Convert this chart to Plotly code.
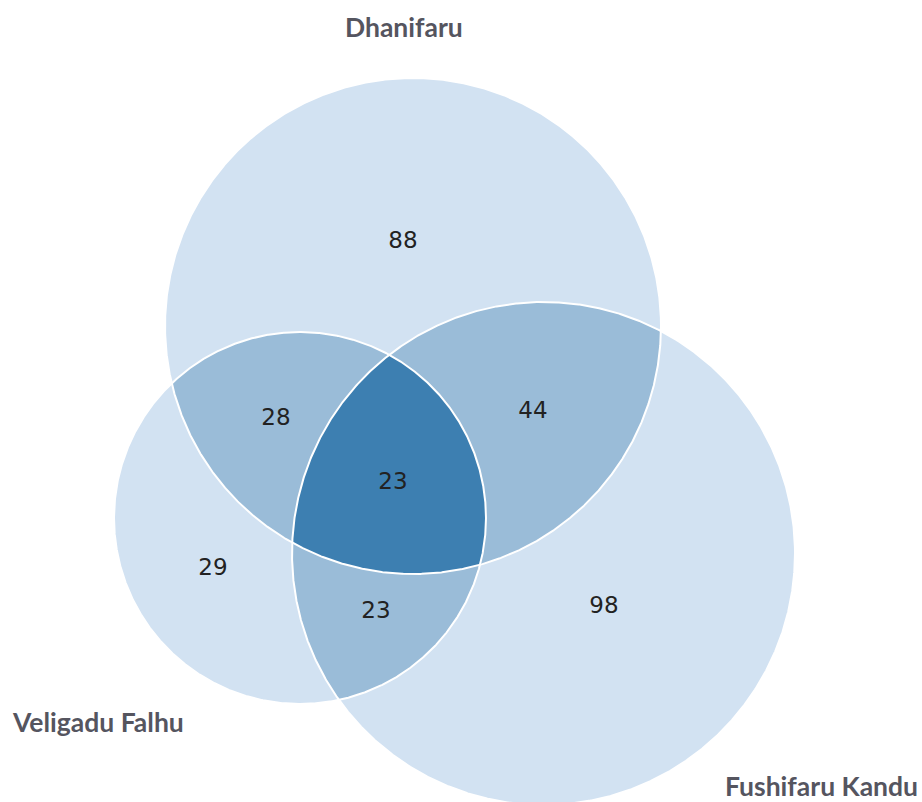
import numpy as np
import plotly.graph_objects as go

# sets and region counts
set_names = ["Dhanifaru", "Veligadu Falhu", "Fushifaru Kandu"]
region_keys = ["D", "V", "F", "DV", "DF", "VF", "DVF"]
region_counts = [88, 29, 98, 28, 44, 23, 23]

# circle layout (pixel space): centre x, centre y, radius
circles = {
    "D": (413, 326, 248),
    "V": (300, 518, 186),
    "F": (543.5, 553.5, 251.5),
}
label_pos = {
    "D": (403, 242), "V": (213, 569), "F": (604, 607),
    "DV": (276, 419), "DF": (533, 412), "VF": (376, 612), "DVF": (393, 483),
}
name_pos = [(403.5, 27), (97.5, 722), (821, 786)]

light = "rgb(210,226,242)"
mid = "rgb(154,188,216)"
dark = "rgb(61,127,177)"


def circle_pts(key, n=1440):
    cx, cy, r = circles[key]
    t = np.linspace(0, 2 * np.pi, n, endpoint=False)
    return cx + r * np.cos(t), cy + r * np.sin(t)


def intersection(keys):
    xs, ys = [], []
    for k in keys:
        x, y = circle_pts(k)
        keep = np.ones_like(x, dtype=bool)
        for o in keys:
            if o == k:
                continue
            cx, cy, r = circles[o]
            keep &= (x - cx) ** 2 + (y - cy) ** 2 <= r * r + 1e-6
        xs.append(x[keep])
        ys.append(y[keep])
    x = np.concatenate(xs)
    y = np.concatenate(ys)
    mx, my = x.mean(), y.mean()
    order = np.argsort(np.arctan2(y - my, x - mx))
    x, y = x[order], y[order]
    return np.append(x, x[0]), np.append(y, y[0])


fig = go.Figure()


def add_fill(x, y, color):
    fig.add_trace(go.Scatter(x=x, y=y, mode="lines", fill="toself",
                             fillcolor=color, line=dict(width=0),
                             hoverinfo="skip", showlegend=False))


for k in ["D", "V", "F"]:
    x, y = circle_pts(k)
    add_fill(np.append(x, x[0]), np.append(y, y[0]), light)
for pair in [["D", "V"], ["D", "F"], ["V", "F"]]:
    x, y = intersection(pair)
    add_fill(x, y, mid)
x, y = intersection(["D", "V", "F"])
add_fill(x, y, dark)

# white outlines
for k in ["D", "V", "F"]:
    x, y = circle_pts(k)
    fig.add_trace(go.Scatter(x=np.append(x, x[0]), y=np.append(y, y[0]),
                             mode="lines", line=dict(color="white", width=2),
                             hoverinfo="skip", showlegend=False))

# region counts
fig.add_trace(go.Scatter(
    x=[label_pos[k][0] for k in region_keys],
    y=[label_pos[k][1] for k in region_keys],
    mode="text", text=[str(v) for v in region_counts],
    textfont=dict(family="DejaVu Sans", size=23, color="#222222"),
    hoverinfo="skip", showlegend=False))

# set names
for name, (x0, y0) in zip(set_names, name_pos):
    fig.add_annotation(x=x0, y=y0, text="<b>%s</b>" % name, showarrow=False,
                       xanchor="center", yanchor="middle",
                       font=dict(family="Lato", size=26.5, color="#55555f"))

fig.update_layout(
    width=922, height=802,
    margin=dict(l=0, r=0, t=0, b=0),
    plot_bgcolor="white", paper_bgcolor="white",
    xaxis=dict(range=[0, 922], visible=False),
    yaxis=dict(range=[802, 0], visible=False),
)

# drop the default page margin so the figure sits at the window's corner
fig.write_html("out.html",
               config={"displayModeBar": False},
               post_script="document.body.style.margin='0';"
                           "document.body.style.overflow='hidden';")
